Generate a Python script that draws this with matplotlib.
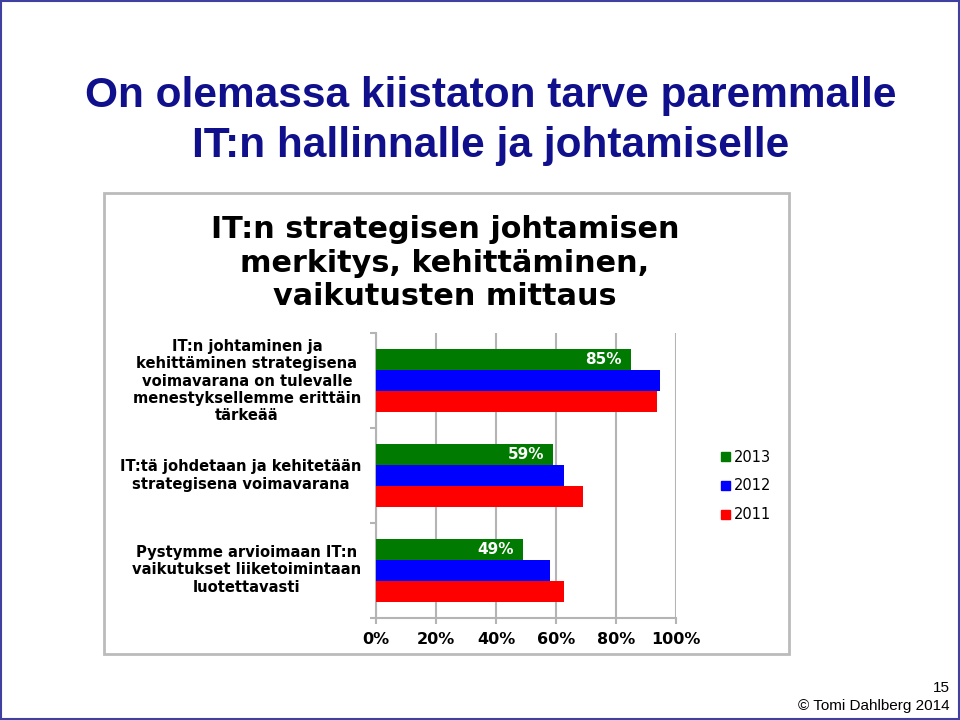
import matplotlib.pyplot as plt
from matplotlib.patches import Rectangle, Patch
import numpy

categories = ["IT:n johtaminen ja\nkehittäminen strategisena\nvoimavarana on tulevalle\nmenestyksellemme erittäin\ntärkeää",
              "IT:tä johdetaan ja kehitetään\nstrategisena voimavarana",
              "Pystymme arvioimaan IT:n\nvaikutukset liiketoimintaan\nluotettavasti"]
years = ["2013", "2012", "2011"]
values2013 = [85, 59, 49]
values2012 = [94.5, 62.5, 58]
values2011 = [93.5, 69, 62.5]
colors = ["#007A00", "#0000FF", "#FF0000"]
ticks = [0, 20, 40, 60, 80, 100]

fig = plt.figure(figsize=(9.6, 7.2), dpi=100)

# slide border
fig.patches.append(Rectangle((0.001, 0.001), 0.998, 0.997, transform=fig.transFigure,
                             fill=False, edgecolor="#4040A0", linewidth=1.5))

# slide title
fig.text(491 / 960, 1 - 96 / 720, "On olemassa kiistaton tarve paremmalle", ha="center", va="center",
         fontsize=30.5, fontweight="bold", color="#10108C", family="Liberation Sans")
fig.text(491 / 960, 1 - 146 / 720, "IT:n hallinnalle ja johtamiselle", ha="center", va="center",
         fontsize=30.5, fontweight="bold", color="#10108C", family="Liberation Sans")

# picture frame
fig.patches.append(Rectangle((104 / 960, 1 - 654 / 720), 685 / 960, 461 / 720, transform=fig.transFigure,
                             fill=False, edgecolor="#BBBBBB", linewidth=2))

# chart title
fig.text(445 / 960, 1 - 263 / 720, "IT:n strategisen johtamisen\nmerkitys, kehittäminen,\nvaikutusten mittaus",
         ha="center", va="center", fontsize=21.8, fontweight="bold", color="black",
         linespacing=1.2)

ax = fig.add_axes([376 / 960, 1 - 618 / 720, 300 / 960, 285 / 720])
y = numpy.arange(len(categories))
h = 0.22
series = [values2013, values2012, values2011]
for i in range(3):
    ax.barh(y - h + i * h, series[i], height=h, color=colors[i], label=years[i], zorder=3)

for i in range(len(categories)):
    ax.text(values2013[i] - 3, y[i] - h, str(values2013[i]) + "%", ha="right", va="center",
            color="white", fontsize=11, fontweight="bold", zorder=4)

ax.set_xlim(0, 100)
ax.set_ylim(2.5, -0.5)
ax.set_xticks(ticks)
ax.set_xticklabels([str(t) + "%" for t in ticks], fontsize=11.5, fontweight="bold")
ax.set_yticks([-0.5, 0.5, 1.5, 2.5])
ax.set_yticklabels([])
ax.xaxis.grid(True, color="#B4B4B4", linewidth=1.5, zorder=0)
ax.tick_params(axis="both", color="#B4B4B4", length=4, width=1.5)
ax.tick_params(axis="x", pad=6)
for s in ["top", "right"]:
    ax.spines[s].set_visible(False)
for s in ["left", "bottom"]:
    ax.spines[s].set_color("#B4B4B4")
    ax.spines[s].set_linewidth(1.5)

# category labels
for i in range(len(categories)):
    fig.text(361 / 960, 1 - (381 + 94.5 * i) / 720, categories[i], ha="right", va="center",
             multialignment="center", fontsize=10.6, fontweight="bold", linespacing=1.2)

handles = [Patch(color=colors[i], label=years[i]) for i in range(3)]
fig.legend(handles=handles, loc="center left", bbox_to_anchor=(708 / 960, 1 - 486 / 720),
           frameon=False, fontsize=10.5, handlelength=0.6, handleheight=0.6,
           handletextpad=0.3, labelspacing=0.95)

# footer
fig.text(950 / 960, 1 - 688 / 720, "15", ha="right", va="center", fontsize=11, family="Liberation Sans")
fig.text(950 / 960, 1 - 706 / 720, "© Tomi Dahlberg 2014", ha="right", va="center", fontsize=11,
         family="Liberation Sans")

fig.savefig("out.png", dpi=100)
